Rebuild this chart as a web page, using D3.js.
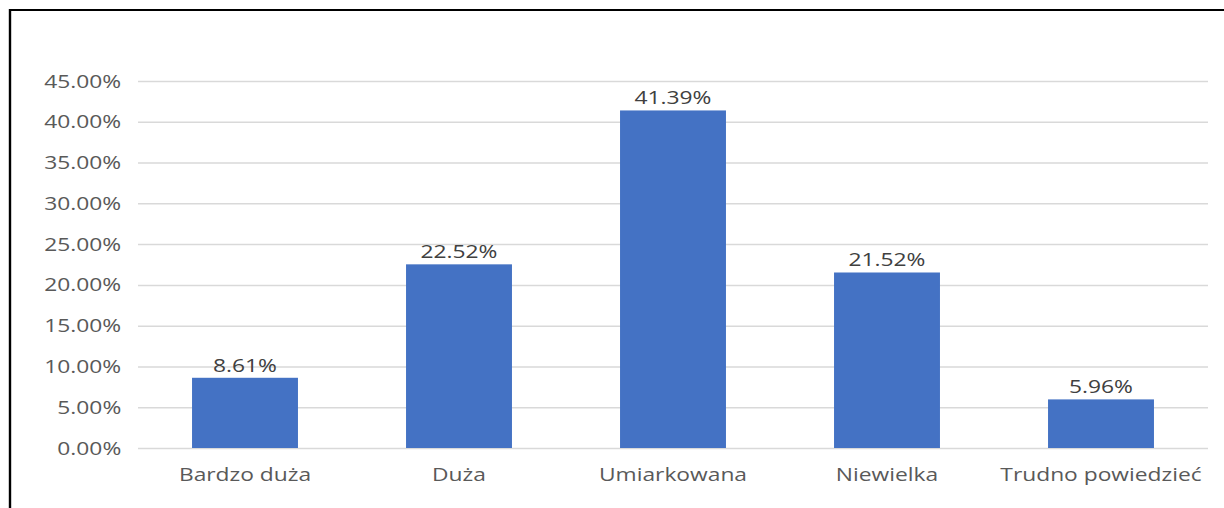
<!DOCTYPE html>
<html>
<head>
<meta charset="utf-8">
<script src="https://cdn.jsdelivr.net/npm/d3@7"></script>
<style>
  body { margin: 0; background: #fff; }
  svg { display: block; }
  text { font-family: 'Open Sans', sans-serif; }
</style>
</head>
<body>
<svg></svg>
<script>
// ---------------- data ----------------
let categories = ['Bardzo duża', 'Duża', 'Umiarkowana', 'Niewielka', 'Trudno powiedzieć']
let values = [8.61, 22.52, 41.39, 21.52, 5.96]
let tickValues = [0, 5, 10, 15, 20, 25, 30, 35, 40, 45]

let width = 1224
let height = 508
// the reference looks stretched sideways, so draw in a narrower viewBox
let sx = 1.2
let vbWidth = width / sx

let xScale
let yScale

let svg = d3.select('svg')

let drawCanvas = () => {
  svg.attr('width', width)
     .attr('height', height)
     .attr('viewBox', '0 0 ' + vbWidth + ' ' + height)
     .attr('preserveAspectRatio', 'none')

  // black frame, top and left only (rest is cut off)
  svg.append('path')
     .attr('d', 'M' + (10 / sx) + ',' + height + 'V10H' + vbWidth)
     .attr('fill', 'none')
     .attr('stroke', '#000')
     .attr('stroke-width', 2)
}

let generateScales = () => {
  xScale = d3.scaleBand()
             .domain(categories)
             .range([138 / sx, 1208 / sx])
             .paddingInner(0.505)
             .paddingOuter(0.2525)

  yScale = d3.scaleLinear()
             .domain([0, 45])
             .range([448, 81])
}

let generateAxes = () => {
  let yAxis = d3.axisLeft(yScale)
                .tickValues(tickValues)
                .tickSize(-(xScale.range()[1] - xScale.range()[0]))
                .tickPadding(14)
                .tickFormat(d => d.toFixed(2) + '%')

  let gy = svg.append('g')
              .attr('id', 'y-axis')
              .attr('transform', 'translate(' + xScale.range()[0] + ', 0)')
              .call(yAxis)

  gy.select('.domain').remove()
  gy.selectAll('line')
    .attr('stroke', '#d9d9d9')
    .attr('stroke-width', 1.5)
  gy.selectAll('text')
    .attr('fill', '#595959')
    .attr('font-size', 19)

  let xAxis = d3.axisBottom(xScale)
                .tickSize(0)
                .tickPadding(20)

  let gx = svg.append('g')
              .attr('id', 'x-axis')
              .attr('transform', 'translate(0, 448)')
              .call(xAxis)

  gx.select('.domain').remove()
  gx.selectAll('text')
    .attr('fill', '#595959')
    .attr('font-size', 19)
}

let drawBars = () => {
  svg.selectAll('rect.bar')
     .data(values)
     .enter()
     .append('rect')
     .attr('class', 'bar')
     .attr('x', (d, i) => xScale(categories[i]))
     .attr('y', d => yScale(d))
     .attr('width', xScale.bandwidth())
     .attr('height', d => yScale(0) - yScale(d))
     .attr('fill', '#4472c4')

  svg.selectAll('text.val')
     .data(values)
     .enter()
     .append('text')
     .attr('class', 'val')
     .attr('x', (d, i) => xScale(categories[i]) + xScale.bandwidth() / 2)
     .attr('y', d => yScale(d) - 6)
     .attr('text-anchor', 'middle')
     .attr('font-size', 19)
     .attr('fill', '#404040')
     .text(d => d.toFixed(2) + '%')
}

drawCanvas()
generateScales()
generateAxes()
drawBars()
</script>
</body>
</html>
